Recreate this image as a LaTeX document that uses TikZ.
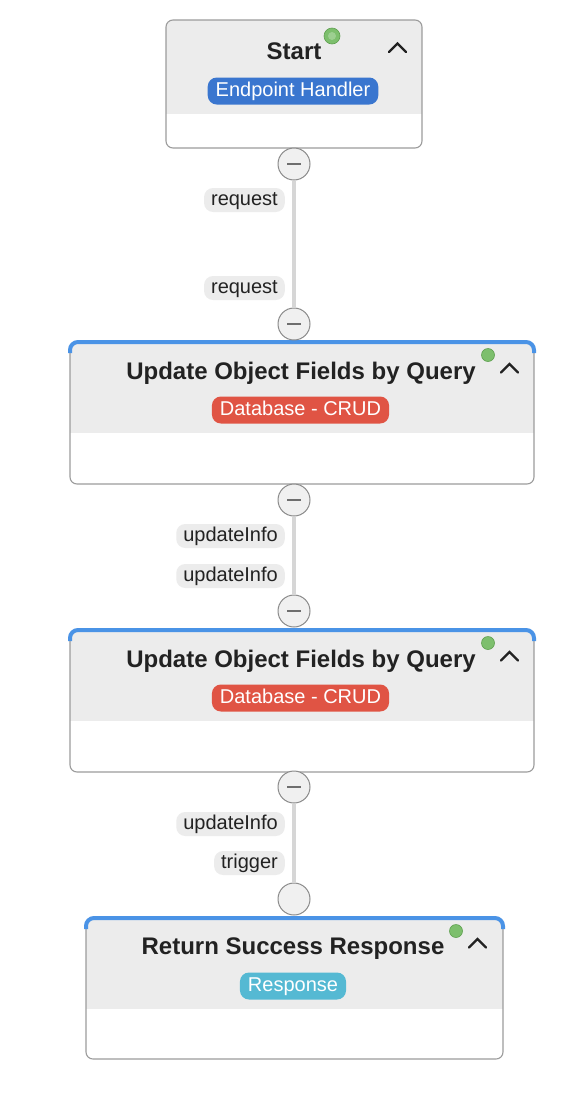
\documentclass[tikz,border=0pt]{standalone}
\usepackage{fontspec}
\setmainfont{Liberation Sans}
\usetikzlibrary{positioning}
\definecolor{hdr}{HTML}{ECECEC}
\definecolor{bordc}{HTML}{9C9C9C}
\definecolor{topblue}{HTML}{4A93E6}
\definecolor{bblue}{HTML}{3A76CF}
\definecolor{bred}{HTML}{E05444}
\definecolor{bcyan}{HTML}{55B9D3}
\definecolor{dotg}{HTML}{7DBF6D}
\definecolor{dotgd}{HTML}{5FA050}
\definecolor{txt}{HTML}{222222}
\definecolor{conng}{HTML}{D6D6D6}
\definecolor{circf}{HTML}{F0F0F0}
\definecolor{circd}{HTML}{8A8A8A}
\tikzset{
  boxframe/.style={inner sep=0pt, outer sep=0pt},
  boxborder/.style={draw=bordc, line width=1.1pt, rounded corners=7pt},
  topline/.style={draw=topblue, line width=4pt, rounded corners=8pt},
  titletext/.style={anchor=base, text=txt, font=\fontsize{24}{28}\selectfont\bfseries, inner sep=0pt},
  badge/.style={anchor=base, text=white, font=\fontsize{20}{24}\selectfont, rounded corners=9pt, text height=14.5pt, text depth=4.5pt, inner xsep=8pt, inner ysep=4pt},
  pill/.style={anchor=base east, fill=hdr, text=txt, font=\fontsize{20}{24}\selectfont, rounded corners=9pt, text height=14.5pt, text depth=4.5pt, inner xsep=7pt, inner ysep=2.5pt},
  portminus/.style={circle, fill=circf, draw=circd, line width=1pt, minimum size=32pt, inner sep=0pt,
    path picture={\draw[circd!80!black, line width=1.2pt] ([xshift=-7pt]path picture bounding box.center) -- ([xshift=7pt]path picture bounding box.center);}},
  portempty/.style={circle, fill=circf, draw=circd, line width=1pt, minimum size=32pt, inner sep=0pt},
  conn/.style={draw=conng, line width=4.5pt},
  gdot/.style={circle, fill=dotg, draw=dotgd, line width=0.6pt, inner sep=0pt},
  caret/.style={draw=txt, line width=2.2pt, line cap=round, line join=miter},
}
\newcommand\flowbox[6]{% name, cx, cy, w, h, header height
  \path node[boxframe, minimum width=#4pt, minimum height=#5pt] (#1) at (#2,#3) {};
  \begin{scope}
    \clip[rounded corners=7pt] (#1.south west) rectangle (#1.north east);
    \fill[white] (#1.south west) rectangle (#1.north east);
    \fill[hdr] (#1.north west) rectangle ([yshift=-#6pt]#1.north east);
  \end{scope}
  \draw[boxborder] (#1.south west) rectangle (#1.north east);
}
\begin{document}
\begin{tikzpicture}[x=1pt, y=-1pt]
\useasboundingbox[fill=white] (0,0) rectangle (562,1098);

% ---------- boxes ----------
\flowbox{b1}{294}{84}{256}{128}{94}
\flowbox{b2}{302}{413}{464}{142}{91}
\flowbox{b3}{302}{701}{464}{142}{91}
\flowbox{b4}{294.5}{988.5}{417}{141}{91}

\draw[topline] ([yshift=-11pt]b2.north west) -- (b2.north west) -- (b2.north east) -- ([yshift=-11pt]b2.north east);
\draw[topline] ([yshift=-11pt]b3.north west) -- (b3.north west) -- (b3.north east) -- ([yshift=-11pt]b3.north east);
\draw[topline] ([yshift=-11pt]b4.north west) -- (b4.north west) -- (b4.north east) -- ([yshift=-11pt]b4.north east);

% ---------- titles ----------
\node[titletext] (t1) at (294,59) {Start};
\node[titletext] (t2) at (301,379) {Update Object Fields by Query};
\node[titletext] (t3) at (301,667) {Update Object Fields by Query};
\node[titletext] (t4) at (293,954) {Return Success Response};

% ---------- badges ----------
\node[badge, fill=bblue] (g1) at (293,96) {Endpoint Handler};
\node[badge, fill=bred] (g2) at (300.5,415) {Database - CRUD};
\node[badge, fill=bred] (g3) at (300.5,703) {Database - CRUD};
\node[badge, fill=bcyan] (g4) at (293,991) {Response};

% ---------- status dots ----------
\node[gdot, minimum size=16pt] (d1) at (332,36) {};
\fill[white, opacity=0.25] (d1.center) circle (4pt);
\node[gdot, minimum size=13pt] (d2) at (488,355) {};
\node[gdot, minimum size=13pt] (d3) at (488,643) {};
\node[gdot, minimum size=13pt] (d4) at (456,931) {};

% ---------- carets ----------
\draw[caret] (389,52) -- (397.5,43.5) -- (406,52);
\draw[caret] (501,372.5) -- (509.5,364) -- (518,372.5);
\draw[caret] (501,660.5) -- (509.5,652) -- (518,660.5);
\draw[caret] (469,947.5) -- (477.5,939) -- (486,947.5);

% ---------- ports ----------
\node[portminus] (p1o) at (294,164) {};
\node[portminus] (p2i) at (294,324) {};
\node[portminus] (p2o) at (294,500) {};
\node[portminus] (p3i) at (294,611) {};
\node[portminus] (p3o) at (294,787) {};
\node[portempty] (p4i) at (294,899) {};

% ---------- connectors ----------
\draw[conn] (p1o.south) -- (p2i.north);
\draw[conn] (p2o.south) -- (p3i.north);
\draw[conn] (p3o.south) -- (p4i.north);

% ---------- labels ----------
\node[pill] (l1) at (285,205) {request};
\node[pill] (l2) at (285,293) {request};
\node[pill] (l3) at (285,541) {updateInfo};
\node[pill] (l4) at (285,581) {updateInfo};
\node[pill] (l5) at (285,829) {updateInfo};
\node[pill] (l6) at (285,868) {trigger};
\end{tikzpicture}
\end{document}
